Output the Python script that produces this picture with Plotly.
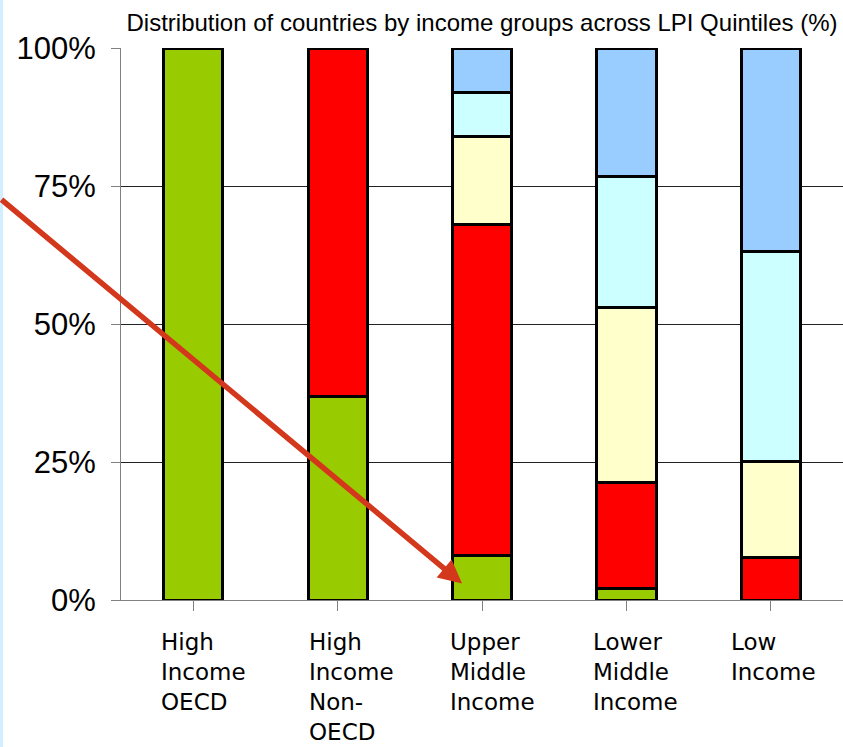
import plotly.graph_objects as go

# Income groups (x categories) and share of countries in each LPI quintile (%)
categories = [
    "High<br>Income<br>OECD",
    "High<br>Income<br>Non-<br>OECD",
    "Upper<br>Middle<br>Income",
    "Lower<br>Middle<br>Income",
    "Low<br>Income",
]
quintile_names = ["Quintile 1", "Quintile 2", "Quintile 3", "Quintile 4", "Quintile 5"]
q1 = [100.0, 36.8, 8.0, 2.0, None]
q2 = [None, 63.2, 60.0, 19.3, 7.7]
q3 = [None, None, 16.0, 31.6, 17.4]
q4 = [None, None, 8.0, 23.9, 38.1]
q5 = [None, None, 8.0, 23.2, 36.8]
y_ticks = [0, 25, 50, 75, 100]

colors = ["#99CC00", "#FF0000", "#FFFFCC", "#CCFFFF", "#99CCFF"]

W, H = 843, 747
M_L, M_R, M_T, M_B = 121, 0, 48, 147

x_idx = list(range(len(categories)))

fig = go.Figure()
for name, vals, col in zip(quintile_names, [q1, q2, q3, q4, q5], colors):
    fig.add_trace(go.Bar(
        x=x_idx, y=vals, name=name, width=0.41,
        marker=dict(color=col, line=dict(color="#000000", width=3)),
        showlegend=False,
    ))

sans = "Liberation Sans, Arial, sans-serif"

fig.update_layout(
    width=W, height=H,
    margin=dict(l=M_L, r=M_R, t=M_T, b=M_B, pad=0),
    barmode="stack",
    plot_bgcolor="#FFFFFF", paper_bgcolor="#FFFFFF",
    title=dict(
        text="Distribution of countries by income groups across LPI Quintiles (%)",
        x=0.5, xref="paper", xanchor="center",
        y=1 - 23 / H, yref="container", yanchor="middle",
        font=dict(family=sans, size=24, color="#000000"),
    ),
    xaxis=dict(
        range=[-0.5, len(categories) - 0.5],
        tickmode="array", tickvals=x_idx, ticktext=categories,
        showticklabels=False,
        ticks="outside", ticklen=10, tickcolor="#808080", tickwidth=1,
        tickson="boundaries",
        showline=True, linecolor="#808080", linewidth=1,
        showgrid=False, zeroline=False,
    ),
    yaxis=dict(
        range=[0, 100],
        tickmode="array", tickvals=y_ticks,
        ticktext=[f"{v}%" for v in y_ticks],
        ticks="outside", ticklen=9, tickcolor="#808080", tickwidth=1,
        ticklabelstandoff=9,
        tickfont=dict(family=sans, size=31, color="#000000"),
        showline=True, linecolor="#808080", linewidth=1,
        showgrid=True, gridcolor="#222222", gridwidth=1,
        zeroline=False,
    ),
)

# Category labels: left-aligned blocks beneath each bar
label_shift = [-34, -31, -34, -35, -42]
for i, (lab, dx) in enumerate(zip(categories, label_shift)):
    fig.add_annotation(
        x=i, y=0, xref="x", yref="y",
        text=lab, showarrow=False,
        xanchor="left", yanchor="top", align="left",
        xshift=dx, yshift=-27,
        font=dict(family="DejaVu Sans", size=23, color="#000000"),
    )

# Pointer arrow toward the Upper Middle Income green segment
fig.add_annotation(
    x=1.862, y=3.0, xref="x", yref="y",
    ax=-468, ay=-385, axref="pixel", ayref="pixel",
    text="", showarrow=True,
    arrowhead=2, arrowsize=0.85, arrowwidth=5.5, arrowcolor="#D4381C",
)

# Thin light-blue strip at the left edge of the page
plot_w = W - M_L - M_R
plot_h = H - M_T - M_B
fig.add_shape(
    type="rect", xref="paper", yref="paper",
    x0=-M_L / plot_w, x1=(3 - M_L) / plot_w,
    y0=-M_B / plot_h, y1=1 + M_T / plot_h,
    fillcolor="#D2EFFF", line=dict(width=0), layer="above",
)

fig.write_html("out.html")
